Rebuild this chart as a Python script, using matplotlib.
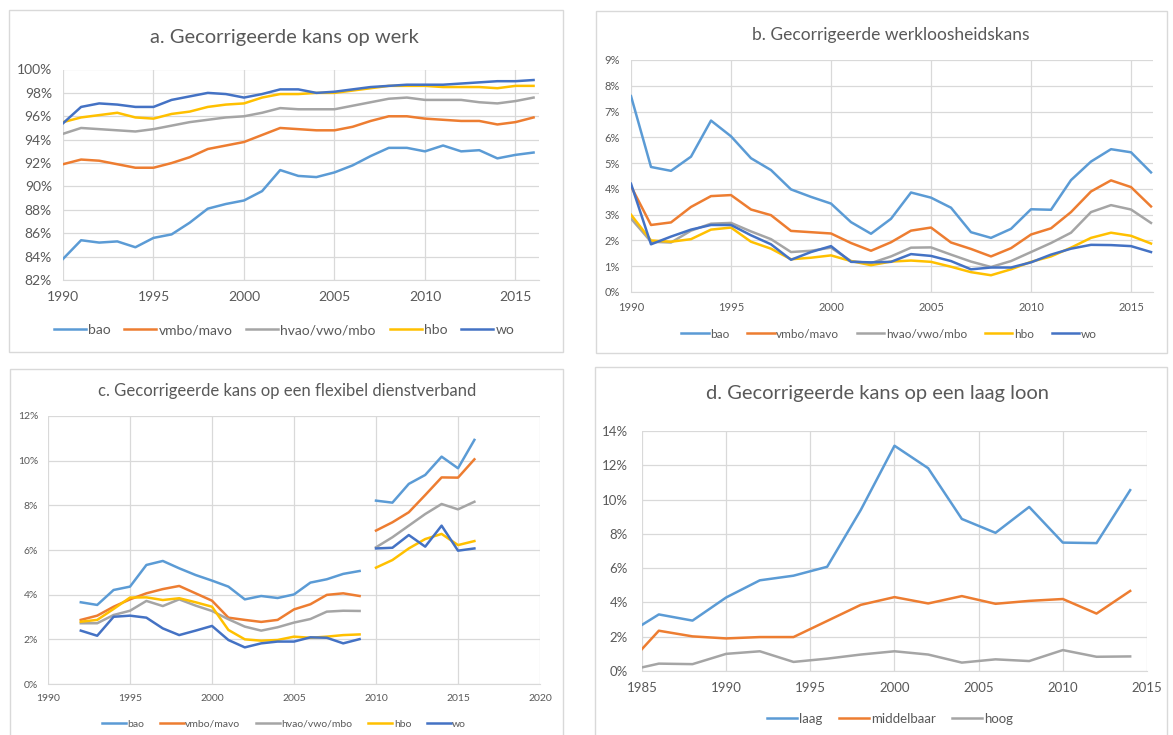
import matplotlib
matplotlib.use("Agg")
import matplotlib.pyplot as plt
from matplotlib.patches import Rectangle
from matplotlib.ticker import FuncFormatter
import numpy as np

plt.rcParams['font.family'] = ['Lato', 'DejaVu Sans']

# ---- data -------------------------------------------------------------
labels5 = ['bao', 'vmbo/mavo', 'hvao/vwo/mbo', 'hbo', 'wo']
colors5 = ['#5B9BD5', '#ED7D31', '#A5A5A5', '#FFC000', '#4472C4']

years_ab = list(range(1990, 2017))

# a. kans op werk (%)
a_bao = [83.8, 85.4, 85.2, 85.3, 84.8, 85.6, 85.9, 86.9, 88.1, 88.5, 88.8, 89.6, 91.4, 90.9,
         90.8, 91.2, 91.8, 92.6, 93.3, 93.3, 93.0, 93.5, 93.0, 93.1, 92.4, 92.7, 92.9]
a_vmbo = [91.9, 92.3, 92.2, 91.9, 91.6, 91.6, 92.0, 92.5, 93.2, 93.5, 93.8, 94.4, 95.0, 94.9,
          94.8, 94.8, 95.1, 95.6, 96.0, 96.0, 95.8, 95.7, 95.6, 95.6, 95.3, 95.5, 95.9]
a_hvao = [94.5, 95.0, 94.9, 94.8, 94.7, 94.9, 95.2, 95.5, 95.7, 95.9, 96.0, 96.3, 96.7, 96.6,
          96.6, 96.6, 96.9, 97.2, 97.5, 97.6, 97.4, 97.4, 97.4, 97.2, 97.1, 97.3, 97.6]
a_hbo = [95.5, 95.9, 96.1, 96.3, 95.9, 95.8, 96.2, 96.4, 96.8, 97.0, 97.1, 97.6, 97.9, 97.9,
         98.0, 98.0, 98.2, 98.4, 98.6, 98.6, 98.6, 98.5, 98.5, 98.5, 98.4, 98.6, 98.6]
a_wo = [95.4, 96.8, 97.1, 97.0, 96.8, 96.8, 97.4, 97.7, 98.0, 97.9, 97.6, 97.9, 98.3, 98.3,
        98.0, 98.1, 98.3, 98.5, 98.6, 98.7, 98.7, 98.7, 98.8, 98.9, 99.0, 99.0, 99.1]

# b. werkloosheidskans (%)
b_bao = [7.6, 4.85, 4.7, 5.25, 6.65, 6.04, 5.19, 4.73, 3.98, 3.69, 3.43, 2.71, 2.26, 2.84,
         3.86, 3.66, 3.27, 2.32, 2.10, 2.45, 3.21, 3.19, 4.34, 5.06, 5.54, 5.42, 4.64]
b_vmbo = [4.1, 2.6, 2.7, 3.3, 3.72, 3.76, 3.2, 2.98, 2.37, 2.32, 2.27, 1.9, 1.6, 1.93,
          2.38, 2.5, 1.92, 1.67, 1.38, 1.7, 2.23, 2.47, 3.1, 3.9, 4.33, 4.07, 3.32]
b_hvao = [2.85, 1.95, 1.92, 2.38, 2.65, 2.68, 2.35, 2.05, 1.55, 1.6, 1.72, 1.2, 1.12, 1.38,
          1.72, 1.73, 1.45, 1.18, 0.97, 1.2, 1.55, 1.9, 2.3, 3.1, 3.37, 3.2, 2.68]
b_hbo = [3.0, 2.0, 1.95, 2.05, 2.42, 2.5, 1.95, 1.68, 1.27, 1.33, 1.42, 1.2, 1.04, 1.18,
         1.22, 1.17, 0.98, 0.77, 0.65, 0.88, 1.17, 1.38, 1.72, 2.1, 2.3, 2.18, 1.88]
b_wo = [4.2, 1.85, 2.15, 2.42, 2.6, 2.6, 2.2, 1.85, 1.25, 1.55, 1.78, 1.17, 1.15, 1.17,
        1.47, 1.4, 1.2, 0.88, 0.95, 0.95, 1.15, 1.45, 1.68, 1.83, 1.82, 1.78, 1.55]

# c. kans op flexibel dienstverband (%), break between 2009 and 2010
years_c1 = list(range(1992, 2010))
years_c2 = list(range(2010, 2017))
c_bao = [3.66, 3.54, 4.21, 4.36, 5.33, 5.51, 5.18, 4.88, 4.63, 4.36, 3.79, 3.94, 3.85, 4.01,
         4.54, 4.69, 4.93, 5.06,
         8.21, 8.12, 8.96, 9.36, 10.18, 9.66, 10.93]
c_vmbo = [2.87, 3.06, 3.46, 3.79, 4.06, 4.25, 4.39, 4.06, 3.73, 2.97, 2.87, 2.78, 2.87, 3.34,
          3.57, 3.99, 4.06, 3.94,
          6.87, 7.24, 7.69, 8.46, 9.25, 9.24, 10.06]
c_hvao = [2.72, 2.72, 3.09, 3.28, 3.72, 3.49, 3.79, 3.51, 3.27, 2.9, 2.57, 2.39, 2.54, 2.75,
          2.91, 3.24, 3.28, 3.27,
          6.12, 6.57, 7.09, 7.61, 8.06, 7.82, 8.16]
c_hbo = [2.79, 2.87, 3.36, 3.87, 3.88, 3.76, 3.84, 3.66, 3.46, 2.42, 2.0, 1.94, 1.97, 2.12,
         2.07, 2.12, 2.19, 2.22,
         5.21, 5.55, 6.07, 6.49, 6.72, 6.22, 6.40]
c_wo = [2.39, 2.16, 3.01, 3.06, 2.97, 2.49, 2.19, 2.39, 2.6, 1.97, 1.64, 1.82, 1.9, 1.9,
        2.09, 2.07, 1.82, 2.01,
        6.07, 6.1, 6.67, 6.15, 7.09, 5.97, 6.07]

# d. kans op een laag loon (%)
labels3 = ['laag', 'middelbaar', 'hoog']
colors3 = ['#5B9BD5', '#ED7D31', '#A5A5A5']
years_d = [1985, 1986, 1988, 1990, 1992, 1994, 1996, 1998, 2000, 2002, 2004, 2006, 2008,
           2010, 2012, 2014]
d_laag = [2.69, 3.3, 2.94, 4.29, 5.29, 5.56, 6.08, 9.4, 13.14, 11.83, 8.87, 8.06, 9.57,
          7.49, 7.46, 10.55]
d_middel = [1.28, 2.35, 2.02, 1.9, 1.98, 1.98, 2.92, 3.86, 4.31, 3.94, 4.37, 3.92, 4.09,
            4.2, 3.35, 4.67]
d_hoog = [0.21, 0.43, 0.4, 1.0, 1.15, 0.53, 0.72, 0.96, 1.15, 0.96, 0.49, 0.68, 0.58,
          1.22, 0.83, 0.85]

# ---- layout helpers ---------------------------------------------------
W, H = 1173, 735
TXT = '#595959'
GRID = '#d9d9d9'

fig = plt.figure(figsize=(W / 100, H / 100), dpi=100)
fig.patch.set_facecolor('white')


def px_axes(x0, x1, y0, y1):
    return fig.add_axes([x0 / W, 1 - y1 / H, (x1 - x0) / W, (y1 - y0) / H])


def box(x0, y0, x1, y1):
    fig.patches.append(Rectangle((x0 / W, 1 - y1 / H), (x1 - x0) / W, (y1 - y0) / H,
                                 transform=fig.transFigure, fill=False,
                                 edgecolor=GRID, lw=1.0, zorder=0))


def style(ax, xlim, ylim, xticks, yticks, fs, xpad, ypad):
    ax.set_xlim(*xlim)
    ax.set_ylim(*ylim)
    ax.set_xticks(xticks)
    ax.set_yticks(yticks)
    ax.yaxis.set_major_formatter(FuncFormatter(lambda v, p: '%d%%' % round(v)))
    ax.grid(True, color=GRID, lw=0.9)
    ax.set_axisbelow(True)
    for s in ['top', 'right', 'left']:
        ax.spines[s].set_visible(False)
    ax.spines['bottom'].set_color(GRID)
    ax.tick_params(axis='both', length=0, labelsize=fs, colors=TXT)
    ax.tick_params(axis='x', pad=xpad)
    ax.tick_params(axis='y', pad=ypad)
    ax.set_facecolor('none')


def legend(ax, cx, cy, fs, ncol, colspace):
    ax.legend(loc='center', bbox_to_anchor=(cx / W, 1 - cy / H),
              bbox_transform=fig.transFigure, ncol=ncol, frameon=False,
              fontsize=fs, handlelength=2.3, handletextpad=0.15,
              columnspacing=colspace, labelcolor=TXT)


LW = 1.8

# ---- a ----------------------------------------------------------------
box(9, 10, 563, 352)
ax = px_axes(63, 539, 69.5, 280)
for lab, col, vals in zip(labels5, colors5, [a_bao, a_vmbo, a_hvao, a_hbo, a_wo]):
    ax.plot(years_ab, vals, color=col, lw=LW, label=lab)
style(ax, (1990, 2016.3), (82, 100), [1990, 1995, 2000, 2005, 2010, 2015],
      np.arange(82, 101, 2), 10, 8, 8)
legend(ax, 284, 330, 10, 5, 1.0)
fig.text(284 / W, 1 - 38 / H, 'a. Gecorrigeerde kans op werk', ha='center', va='center',
         fontsize=14.5, color=TXT)

# ---- b ----------------------------------------------------------------
box(596, 11, 1167, 353)
ax = px_axes(631, 1153, 60, 292)
for lab, col, vals in zip(labels5, colors5, [b_bao, b_vmbo, b_hvao, b_hbo, b_wo]):
    ax.plot(years_ab, vals, color=col, lw=LW, label=lab)
style(ax, (1990, 2016.1), (0, 9), [1990, 1995, 2000, 2005, 2010, 2015],
      np.arange(0, 10, 1), 8, 7, 8)
legend(ax, 889, 334, 8.5, 5, 1.5)
fig.text(891 / W, 1 - 35 / H, 'b. Gecorrigeerde werkloosheidskans', ha='center',
         va='center', fontsize=12.5, color=TXT)

# ---- c ----------------------------------------------------------------
box(10, 369, 563, 745)
ax = px_axes(48, 540, 416, 684)
for lab, col, vals in zip(labels5, colors5, [c_bao, c_vmbo, c_hvao, c_hbo, c_wo]):
    n = len(years_c1)
    ax.plot(years_c1, vals[:n], color=col, lw=LW, label=lab)
    ax.plot(years_c2, vals[n:], color=col, lw=LW)
style(ax, (1990, 2020), (0, 12), [1990, 1995, 2000, 2005, 2010, 2015, 2020],
      np.arange(0, 13, 2), 7.5, 7, 7)
legend(ax, 284, 724, 7.5, 5, 1.5)
fig.text(287 / W, 1 - 391 / H, 'c. Gecorrigeerde kans op een flexibel dienstverband',
         ha='center', va='center', fontsize=12, color=TXT)

# ---- d ----------------------------------------------------------------
box(595, 367, 1167, 745)
ax = px_axes(642, 1147, 431, 671)
for lab, col, vals in zip(labels3, colors3, [d_laag, d_middel, d_hoog]):
    ax.plot(years_d, vals, color=col, lw=LW, label=lab)
style(ax, (1985, 2015), (0, 14), [1985, 1990, 1995, 2000, 2005, 2010, 2015],
      np.arange(0, 15, 2), 9.5, 8, 10)
legend(ax, 890, 719, 9.5, 3, 1.2)
fig.text(878 / W, 1 - 393 / H, 'd. Gecorrigeerde kans op een laag loon', ha='center',
         va='center', fontsize=14.5, color=TXT)

fig.savefig('out.png', dpi=100)
